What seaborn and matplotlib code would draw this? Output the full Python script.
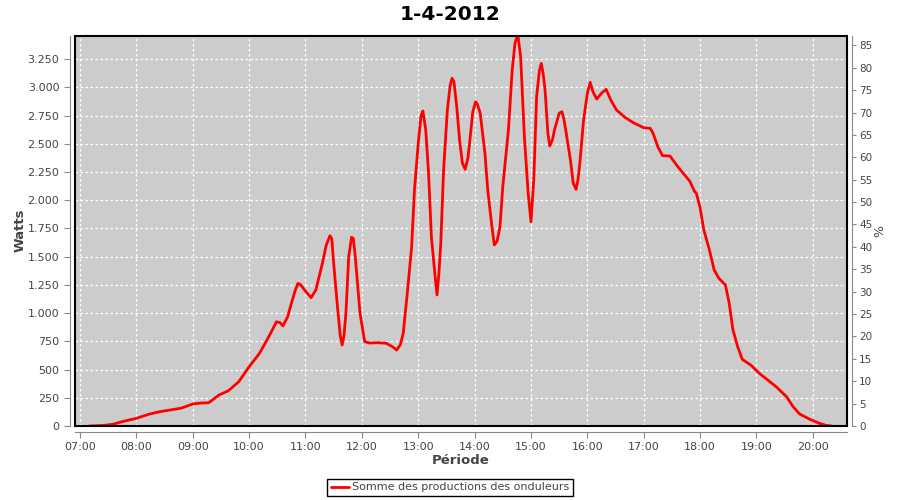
import pandas as pd
import matplotlib
matplotlib.use("Agg")
import matplotlib.pyplot as plt
import matplotlib.dates as mdates
from matplotlib.ticker import FuncFormatter, MultipleLocator
from matplotlib.patches import Rectangle
import seaborn as sns

# readings of 1-4-2012 (time of day, watts)
times = ["07:10", "07:25", "07:35", "07:46", "08:00", "08:14", "08:25", "08:36",
         "08:47", "08:50", "09:00", "09:08", "09:17", "09:28", "09:38", "09:49",
         "10:00", "10:11", "10:18", "10:24", "10:29", "10:33", "10:36", "10:41",
         "10:45", "10:49", "10:52", "10:55", "10:59", "11:06", "11:11", "11:18",
         "11:22", "11:26", "11:28", "11:30", "11:34", "11:37", "11:39", "11:41",
         "11:43", "11:46", "11:49", "11:51", "11:53", "11:58", "12:03", "12:08",
         "12:17", "12:26", "12:33", "12:37", "12:41", "12:44", "12:48", "12:53",
         "12:56", "13:00", "13:03", "13:05", "13:08", "13:11", "13:14", "13:18",
         "13:20", "13:22", "13:24", "13:27", "13:31", "13:34", "13:36", "13:38",
         "13:41", "13:44", "13:47", "13:50", "13:53", "13:55", "13:58", "14:01",
         "14:03", "14:06", "14:11", "14:14", "14:18", "14:21", "14:24", "14:27",
         "14:30", "14:36", "14:40", "14:43", "14:46", "14:49", "14:53", "14:57",
         "15:00", "15:03", "15:06", "15:09", "15:11", "15:13", "15:15", "15:18",
         "15:20", "15:23", "15:25", "15:30", "15:33", "15:35", "15:37", "15:42",
         "15:45", "15:48", "15:50", "15:52", "15:56", "16:00", "16:03", "16:06",
         "16:10", "16:15", "16:20", "16:25", "16:31", "16:40", "16:49", "17:00",
         "17:07", "17:10", "17:15", "17:20", "17:28", "17:35", "17:42", "17:49",
         "17:54", "17:56", "18:00", "18:04", "18:10", "18:15", "18:20", "18:27",
         "18:31", "18:35", "18:40", "18:45", "18:54", "19:03", "19:12", "19:21",
         "19:32", "19:39", "19:46", "19:57", "20:07", "20:14", "20:20"]
watts = [0, 5, 15, 41, 68, 106, 127, 142,
         157, 165, 195, 203, 206, 275, 313, 393,
         525, 644, 747, 840, 924, 915, 886, 968,
         1087, 1200, 1264, 1250, 1205, 1137, 1205, 1441,
         1600, 1686, 1660, 1441, 1057, 800, 718, 800,
         998, 1500, 1672, 1660, 1500, 1000, 747, 735,
         738, 733, 700, 673, 720, 821, 1146, 1589,
         2091, 2505, 2750, 2791, 2622, 2239, 1677, 1323,
         1161, 1350, 1619, 2268, 2800, 3020, 3081, 3050,
         2829, 2534, 2330, 2274, 2380, 2534, 2780, 2873,
         2850, 2771, 2416, 2091, 1796, 1604, 1640, 1766,
         2120, 2622, 3154, 3391, 3470, 3272, 2563, 2062,
         1810, 2180, 2918, 3150, 3213, 3120, 2977, 2593,
         2481, 2540, 2622, 2771, 2785, 2720, 2622, 2357,
         2150, 2097, 2180, 2328, 2711, 2948, 3045, 2962,
         2897, 2948, 2983, 2888, 2800, 2735, 2687, 2643,
         2637, 2593, 2475, 2395, 2392, 2312, 2239, 2170,
         2080, 2062, 1935, 1737, 1559, 1382, 1309, 1249,
         1087, 851, 703, 590, 540, 467, 408, 348,
         260, 171, 106, 59, 24, 6, 0]

title = "1-4-2012"
series_name = "Somme des productions des onduleurs"

df = pd.DataFrame({
    "time": pd.to_datetime(["2012-04-01 " + t for t in times]),
    "watts": watts,
})

sns.set_style("white")
plt.rcParams["font.family"] = ["DejaVu Sans"]

text_col = "#444444"
axis_col = "#888888"

fig = plt.figure(figsize=(9, 5), dpi=100)
ax = fig.add_axes([0.0837, 0.148, 0.857, 0.781])
ax.set_facecolor("#cccccc")

sns.lineplot(data=df, x="time", y="watts", ax=ax, color="red", linewidth=2,
             label=series_name, legend=False)

day = pd.Timestamp("2012-04-01")
ax.set_xlim(day + pd.Timedelta(minutes=6 * 60 + 55), day + pd.Timedelta(minutes=20 * 60 + 36))
ax.set_ylim(0, 3460)

ax.xaxis.set_major_locator(mdates.HourLocator())
ax.xaxis.set_major_formatter(mdates.DateFormatter("%H:%M"))
ax.yaxis.set_major_locator(MultipleLocator(250))
ax.yaxis.set_major_formatter(FuncFormatter(lambda v, p: f"{int(v):,}".replace(",", ".")))

ax.grid(True, color="white", linestyle=(0, (2, 2)), linewidth=0.9)

for s in ["left", "bottom"]:
    ax.spines[s].set_position(("outward", 4))
    ax.spines[s].set_color(axis_col)
ax.spines["top"].set_visible(False)
ax.spines["right"].set_visible(False)
ax.add_patch(Rectangle((0, 0), 1, 1, transform=ax.transAxes, fill=False,
                       edgecolor="black", linewidth=1.5, clip_on=False, zorder=5))

ax.tick_params(axis="both", direction="out", length=4, width=0.8, color=axis_col,
               labelcolor=text_col, labelsize=8, left=True, bottom=True)

ax.set_xlabel("Période", fontsize=9.5, fontweight="bold", color=text_col)
ax.set_ylabel("Watts", fontsize=9.5, fontweight="bold", color=text_col)
ax.xaxis.label.set_va("center")
ax.yaxis.label.set_va("center")
ax.xaxis.set_label_coords(0.5, -0.089)
ax.yaxis.set_label_coords(-0.0717, 0.5)

# right axis in percent
ax2 = ax.twinx()
ax2.set_ylim(0, 87.2)
ax2.yaxis.set_major_locator(MultipleLocator(5))
for s in ["left", "top", "bottom"]:
    ax2.spines[s].set_visible(False)
ax2.spines["right"].set_position(("outward", 4))
ax2.spines["right"].set_color(axis_col)
ax2.tick_params(axis="y", direction="out", length=3, width=0.8, color=axis_col,
                labelcolor=text_col, labelsize=7.5, pad=2)
ax2.set_ylabel("%", fontsize=9, color=text_col)
ax2.yaxis.label.set_va("center")
ax2.yaxis.set_label_coords(1.0432, 0.5)

fig.text(0.5, 0.97, title, ha="center", va="center", fontsize=14.5,
         fontweight="bold", color="black")

handles, labels = ax.get_legend_handles_labels()
leg = fig.legend(handles, labels, loc="center", bbox_to_anchor=(0.5, 0.025),
                 frameon=True, fancybox=False, framealpha=1, edgecolor="black",
                 fontsize=8, handlelength=1.6, handletextpad=0.3, borderpad=0.35,
                 labelcolor=text_col)
leg.get_frame().set_linewidth(1.0)

fig.savefig("out.png", dpi=100)
